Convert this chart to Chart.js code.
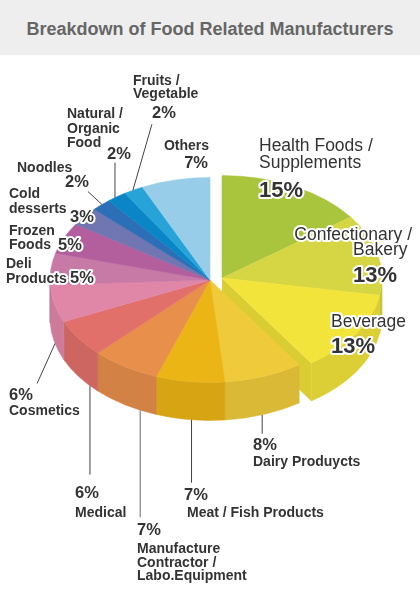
<!DOCTYPE html>
<html>
<head>
<meta charset="utf-8">
<title>Breakdown of Food Related Manufacturers</title>
<script src="https://cdn.jsdelivr.net/npm/chart.js@4"></script>
<style>
  body { margin: 0; background: #fff; }
  #wrap { position: relative; width: 420px; height: 600px; overflow: hidden; }
  #head { position: absolute; left: 0; top: 0; width: 420px; height: 55px; background: #eeeeee; }
  #head h1 { margin: 0; font: bold 18px "Liberation Sans", Arial, sans-serif; color: #666; text-align: center; line-height: 58px; }
  canvas { position: absolute; left: 0; top: 0; }
</style>
</head>
<body>
<div id="wrap">
  <div id="head"><h1>Breakdown of Food Related Manufacturers</h1></div>
  <canvas id="foodPie" width="420" height="600"></canvas>
</div>
<script>
const categories = [
  ["Health Foods /", "Supplements"],
  ["Confectionary /", "Bakery"],
  ["Beverage"],
  ["Dairy Produycts"],
  ["Meat / Fish Products"],
  ["Manufacture", "Contractor /", "Labo.Equipment"],
  ["Medical"],
  ["Cosmetics"],
  ["Deli", "Products"],
  ["Frozen", "Foods"],
  ["Cold", "desserts"],
  ["Noodles"],
  ["Natural /", "Organic", "Food"],
  ["Fruits /", "Vegetable"],
  ["Others"]
];
const shares = [15, 13, 13, 8, 7, 7, 6, 6, 5, 5, 3, 2, 2, 2, 7];

// look of the fake 3d pie
const TILT = 0.64;
const DEPTH = 38;
const FONT = '"Liberation Sans", Arial, sans-serif';

// where each label sits (baselines), and its leader: [fraction along slice, dx, dy, colour]
const labelLayout = [
  { x: 259, y: [151, 168], f: "17.5px", px: 259, py: 197, pf: "bold 22px" },
  { x: [412, 353], a: ["right", "left"], y: [240, 255], f: "17.5px", px: 353, py: 282, pf: "bold 22px" },
  { x: 331, y: [327], f: "17.5px", px: 331, py: 353, pf: "bold 22px" },
  { x: 253, y: [466], px: 253, py: 450, lead: [0.52, 0, 19] },
  { x: 187, y: [517], px: 184, py: 500, lead: [0.48, 0, 63] },
  { x: 137, y: [553, 567, 580], px: 137, py: 535, lead: [0.25, 0, 107, "#9a9a9a"] },
  { x: 75, y: [517], px: 75, py: 498, lead: [0.19, 0, 89] },
  { x: 9, y: [415], px: 9, py: 400, lead: [0.45, -18, 40] },
  { x: 6, y: [268, 283], px: 70, py: 283 },
  { x: 9, y: [235, 249], px: 58, py: 250 },
  { x: 9, y: [198, 213], px: 70, py: 222 },
  { x: 17, y: [172], px: 65, py: 187, lead: [0.54, -14, -13] },
  { x: 67, y: [118, 133, 147], px: 107, py: 159, lead: [0.39, 0, -35] },
  { x: 133, y: [85, 98], px: 152, py: 118, lead: [0.46, 19, -66] },
  { x: 209, y: [150], a: "right", px: 208, py: 168, pa: "right" }
];

function shade(hex, k) {
  const n = parseInt(hex.slice(1), 16);
  const c = s => Math.round(((n >> s) & 255) * k);
  return "rgb(" + c(16) + "," + c(8) + "," + c(0) + ")";
}

const pie3d = {
  id: "pie3d",
  beforeDatasetsDraw(chart, args, o) {
    const ctx = chart.ctx;
    const arcs = chart.getDatasetMeta(0).data;
    const fills = chart.data.datasets[0].backgroundColor;
    const off = i => (i < o.explode ? o.shift : [0, 0]);

    ctx.save();
    // cut face of the pulled-out group, seen through the gap
    const li = o.explode - 1, last = arcs[li];
    {
      const cx = last.x + o.shift[0], cy = last.y + o.shift[1];
      const px = cx + last.outerRadius * Math.cos(last.endAngle);
      const py = cy + last.outerRadius * TILT * Math.sin(last.endAngle);
      ctx.beginPath();
      ctx.moveTo(cx, cy);
      ctx.lineTo(px, py);
      ctx.lineTo(px, py + DEPTH);
      ctx.lineTo(cx, cy + DEPTH);
      ctx.closePath();
      ctx.fillStyle = shade(fills[li], o.wallShade);
      ctx.fill();
    }
    // outer rim, front half only
    arcs.forEach((a, i) => {
      const a0 = Math.max(a.startAngle, 0), a1 = Math.min(a.endAngle, Math.PI);
      if (a1 <= a0) return;
      const [dx, dy] = off(i);
      const cx = a.x + dx, cy = a.y + dy, r = a.outerRadius, h = r * TILT;
      ctx.beginPath();
      ctx.ellipse(cx, cy, r, h, 0, a0, a1);
      ctx.ellipse(cx, cy + DEPTH, r, h, 0, a1, a0, true);
      ctx.closePath();
      ctx.fillStyle = ctx.strokeStyle = shade(fills[i], o.sideShade);
      ctx.lineWidth = 0.6;
      ctx.fill();
      ctx.stroke();
    });
    // top faces
    arcs.forEach((a, i) => {
      const [dx, dy] = off(i);
      const cx = a.x + dx, cy = a.y + dy;
      ctx.beginPath();
      ctx.moveTo(cx, cy);
      ctx.ellipse(cx, cy, a.outerRadius, a.outerRadius * TILT, 0, a.startAngle, a.endAngle);
      ctx.closePath();
      ctx.fillStyle = ctx.strokeStyle = fills[i];
      ctx.lineWidth = 0.6;
      ctx.fill();
      ctx.stroke();
    });
    ctx.restore();
    return false;
  }
};

const pieLabels = {
  id: "pieLabels",
  afterDraw(chart, args, o) {
    const ctx = chart.ctx;
    const arcs = chart.getDatasetMeta(0).data;
    const say = (t, x, y, font, align) => {
      ctx.font = font + " " + FONT;
      ctx.textAlign = align || "left";
      ctx.textBaseline = "alphabetic";
      ctx.lineJoin = "round";
      ctx.lineWidth = 4;
      ctx.strokeStyle = "#fff";
      ctx.strokeText(t, x, y);
      ctx.fillStyle = "#333";
      ctx.fillText(t, x, y);
    };
    ctx.save();
    labelLayout.forEach((L, i) => {
      if (!L.lead) return;
      const a = arcs[i];
      const [f, dx, dy, col] = L.lead;
      const ang = a.startAngle + (a.endAngle - a.startAngle) * f;
      const x = a.x + a.outerRadius * Math.cos(ang);
      let y = a.y + a.outerRadius * TILT * Math.sin(ang);
      if (Math.sin(ang) > 0) y += DEPTH;
      ctx.beginPath();
      ctx.moveTo(x, y);
      ctx.lineTo(x + dx, y + dy);
      ctx.strokeStyle = col || "#444";
      ctx.lineWidth = col ? 1.5 : 1;
      ctx.stroke();
    });
    labelLayout.forEach((L, i) => {
      const lines = chart.data.labels[i];
      lines.forEach((t, k) => {
        const x = Array.isArray(L.x) ? L.x[k] : L.x;
        const al = Array.isArray(L.a) ? L.a[k] : L.a;
        say(t, x, L.y[k], L.f || "bold 14px", al);
      });
      const v = chart.data.datasets[0].data[i];
      say(v + "%", L.px, L.py, L.pf || "bold 16.5px", L.pa);
    });
    ctx.restore();
  }
};

new Chart(document.getElementById("foodPie"), {
  type: "pie",
  data: {
    labels: categories,
    datasets: [{
      data: shares,
      borderWidth: 0,
      hoverBorderWidth: 0,
      hoverOffset: 0,
      backgroundColor: [
        "#a9c53d", "#d6d644", "#f2e43a", "#efcb3b", "#ecb516",
        "#e78f4b", "#e1706a", "#e087a8", "#c87aa7", "#b35f9d",
        "#6f76b1", "#2c6fb6", "#0a86c6", "#27a3d8", "#97cde9"
      ]
    }]
  },
  options: {
    responsive: false,
    animation: false,
    events: [],
    layout: { padding: { left: 50, right: 50, top: 120, bottom: 160 } },
    plugins: {
      legend: { display: false },
      tooltip: { enabled: false },
      pie3d: { explode: 3, shift: [12, -2], sideShade: 0.91, wallShade: 0.9 },
      pieLabels: {}
    }
  },
  plugins: [pie3d, pieLabels]
});
</script>
</body>
</html>
